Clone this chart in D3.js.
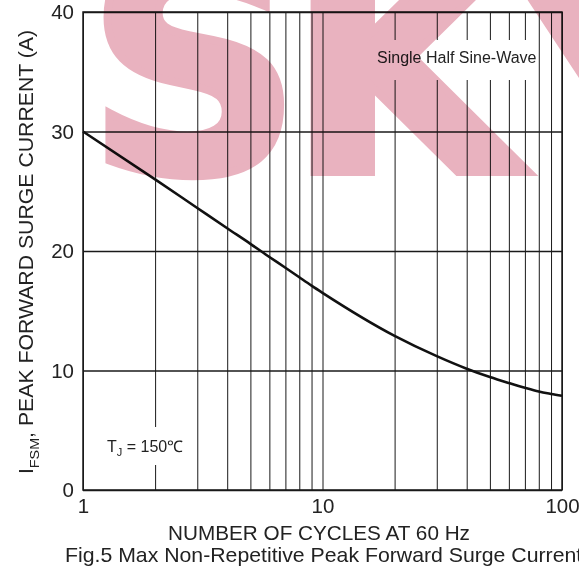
<!DOCTYPE html>
<html>
<head>
<meta charset="utf-8">
<script src="https://cdn.jsdelivr.net/npm/d3@7"></script>
<style>
    body { margin: 0; background: #fff; }
    text { font-family: "Liberation Sans", Arial, sans-serif; fill: #222; }
</style>
</head>
<body>
<svg id="chart" width="579" height="569"></svg>
<script>
// values
const cycles = [1, 2, 3, 4, 5, 6, 7, 8, 9, 10, 20, 30, 40, 50, 60, 70, 80, 90, 100];
const surgeCurrent = [30, 26.0, 23.6, 21.9, 20.6, 19.5, 18.6, 17.8, 17.1, 16.5, 12.9, 11.2, 10.15, 9.45, 8.95, 8.55, 8.24, 8.04, 7.88];

const xGridValues = [1, 2, 3, 4, 5, 6, 7, 8, 9, 10, 20, 30, 40, 50, 60, 70, 80, 90, 100];
const xTickLabels = [1, 10, 100];
const yTickValues = [0, 10, 20, 30, 40];

const margin = {top: 12, right: 17, bottom: 79, left: 83};
const width = 579 - margin.left - margin.right;
const height = 569 - margin.top - margin.bottom;

// the reference lettering is a bit wider than Liberation Sans
const stretch = 1.063;

const svg = d3.select('#chart');
const plot = svg.append('g')
    .attr('transform', `translate(${margin.left}, ${margin.top})`);

const x = d3.scaleLog().domain([1, 100]).range([0, width]);
const y = d3.scaleLinear().domain([0, 40]).range([height, 0]);

// vertical grid + x labels
const xAxis = plot.append('g')
    .attr('class', 'x axis')
    .attr('transform', `translate(0, ${height})`)
    .call(d3.axisBottom(x)
        .tickValues(xGridValues)
        .tickSize(-height)
        .tickPadding(8)
        .tickFormat(d => xTickLabels.includes(d) ? d : ''));

xAxis.select('.domain').remove();
xAxis.selectAll('line').attr('stroke', '#1a1a1a').attr('stroke-width', 1);
xAxis.selectAll('text').style('font-size', '20.5px').attr('fill', '#222');

// horizontal grid + y labels
const yAxis = plot.append('g')
    .attr('class', 'y axis')
    .call(d3.axisLeft(y)
        .tickValues(yTickValues)
        .tickSize(-width)
        .tickPadding(9));

yAxis.select('.domain').remove();
yAxis.selectAll('line').attr('stroke', '#1a1a1a').attr('stroke-width', 1.3);
yAxis.selectAll('text').style('font-size', '20.5px').attr('fill', '#222');

// frame
plot.append('rect')
    .attr('width', width)
    .attr('height', height)
    .attr('fill', 'none')
    .attr('stroke', '#1a1a1a')
    .attr('stroke-width', 1.5);

// label boxes that cut the grid
plot.append('rect')
    .attr('x', 372 - margin.left)
    .attr('y', 40 - margin.top)
    .attr('width', 164)
    .attr('height', 40)
    .attr('fill', '#fff');

plot.append('rect')
    .attr('x', 100 - margin.left)
    .attr('y', 427 - margin.top)
    .attr('width', 92)
    .attr('height', 38)
    .attr('fill', '#fff');

// surge curve
const line = d3.line()
    .x((d, i) => x(cycles[i]))
    .y(d => y(d))
    .curve(d3.curveMonotoneX);

plot.append('path')
    .datum(surgeCurrent)
    .attr('d', line)
    .attr('fill', 'none')
    .attr('stroke', '#111')
    .attr('stroke-width', 2.6);

// annotations
svg.append('text')
    .attr('x', 377)
    .attr('y', 63)
    .style('font-size', '16px')
    .text('Single Half Sine-Wave');

const tj = svg.append('text')
    .attr('x', 107)
    .attr('y', 452)
    .style('font-size', '16px');
tj.append('tspan').text('T');
tj.append('tspan').attr('dy', 4).style('font-size', '11px').text('J');
tj.append('tspan').attr('dy', -4).text(' = 150\u2103');

// axis titles
svg.append('text')
    .attr('transform', `translate(319, 539.5) scale(${stretch}, 1)`)
    .attr('text-anchor', 'middle')
    .style('font-size', '19.5px')
    .text('NUMBER OF CYCLES AT 60 Hz');

svg.append('text')
    .attr('transform', `translate(65, 561.5) scale(${stretch}, 1)`)
    .style('font-size', '20px')
    .text('Fig.5 Max Non-Repetitive Peak Forward Surge Current');

const yTitle = svg.append('text')
    .attr('transform', `translate(33, 252) rotate(-90) scale(${stretch}, 1)`)
    .attr('text-anchor', 'middle')
    .style('font-size', '20px');
yTitle.append('tspan').text('I');
yTitle.append('tspan').attr('dy', 6).style('font-size', '13.5px').text('FSM');
yTitle.append('tspan').attr('dy', -6).text(', PEAK FORWARD SURGE CURRENT (A)');

// watermark
svg.append('text')
    .attr('x', 86)
    .attr('y', 172)
    .style('font-family', '"DejaVu Sans", sans-serif')
    .style('font-size', '300px')
    .style('font-weight', 'bold')
    .style('letter-spacing', '-15px')
    .style('fill', '#e9b2bf')
    .style('stroke', '#e9b2bf')
    .style('stroke-width', 8)
    .style('mix-blend-mode', 'multiply')
    .text('SKY');
</script>
</body>
</html>
